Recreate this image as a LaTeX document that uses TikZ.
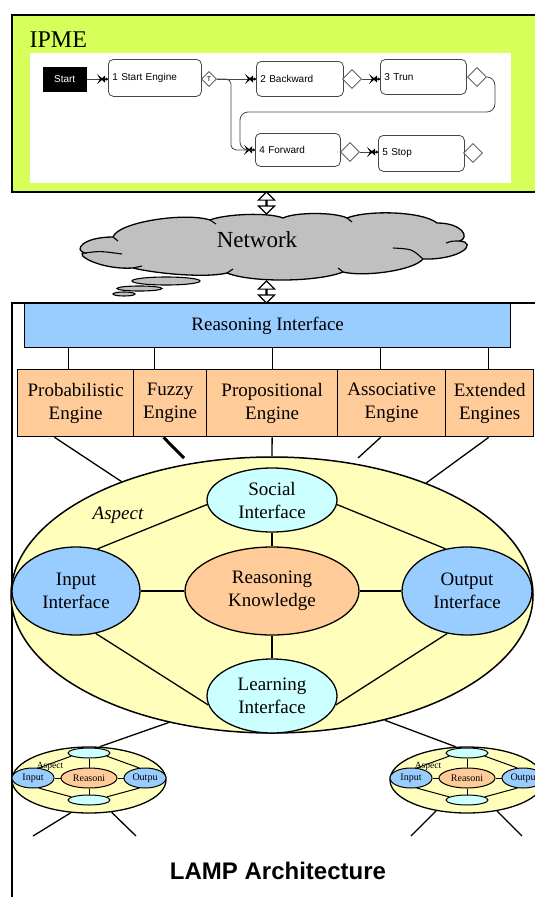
\documentclass[tikz,border=0pt]{standalone}
\usepackage{fontspec}
\setmainfont{Liberation Serif}
\setsansfont{Liberation Sans}
\usetikzlibrary{shapes.geometric,shapes.arrows,calc}
\definecolor{ipmegreen}{RGB}{214,255,90}
\definecolor{riblue}{RGB}{153,204,255}
\definecolor{engpeach}{RGB}{255,204,153}
\definecolor{aspyellow}{RGB}{255,255,187}
\definecolor{soccyan}{RGB}{204,255,255}
\definecolor{cloudgray}{RGB}{192,192,192}
\definecolor{flowgray}{RGB}{70,70,70}
\begin{document}
\begin{tikzpicture}[x=1pt,y=-1pt,line width=1.3pt,
  txt/.style={font=\fontsize{19}{23}\selectfont},
  engbox/.style={draw,fill=engpeach,rectangle,anchor=north west,txt,align=center,inner sep=0pt,minimum height=67pt},
  iface/.style={draw,ellipse,txt,align=center,inner sep=0pt},
  conn/.style={draw,line width=1.3pt},
  fbox/.style={draw=flowgray,rounded corners=5pt,line width=0.8pt,anchor=north west,inner xsep=4pt,inner ysep=0pt,align=left,font=\sffamily\fontsize{10}{12}\selectfont},
  fdia/.style={draw=flowgray,diamond,aspect=1,inner sep=0pt,line width=0.8pt,fill=white},
  flow/.style={draw=flowgray,line width=0.8pt},
  sell/.style={draw,ellipse,inner sep=0pt,line width=1pt,font=\fontsize{10}{11}\selectfont},
  sconn/.style={draw,line width=1pt},
  bubble/.style={draw,ellipse,fill=cloudgray,inner sep=0,line width=1.1pt},
  hollow/.style={double arrow,draw,fill=white,rotate=90,line width=1.2pt,inner sep=0pt,minimum height=22pt,minimum width=8pt,double arrow head extend=7.5pt},
  ipmetip/.pic={\fill[black] (-11,-5) -- (-5,0) -- (-11,5) -- (-8,0) -- cycle;
     \fill[black] (-7,0) -- (-3,-3.5) -- (-3,3.5) -- cycle;
     \fill[black] (-1.5,0) circle (1.5);}
]
\useasboundingbox (0,0) rectangle (535,897);
\clip (0,0) rectangle (535,897);
% ---------- IPME ----------
\node[draw,fill=ipmegreen,line width=1.6pt,anchor=north west,minimum width=560pt,minimum height=177pt,inner sep=0] (ipme) at (11,14) {};
\node[anchor=west,font=\fontsize{24}{26}\selectfont,inner sep=0] (ipmetxt) at (29,40) {IPME};
\node[fill=white,anchor=north west,minimum width=481pt,minimum height=130pt,inner sep=0] (panel) at (29,52) {};
\node[fill=black,text=white,anchor=north west,minimum width=44pt,minimum height=25pt,inner sep=0,font=\sffamily\fontsize{10}{12}\selectfont] (start) at (42,66) {Start};
\node[fbox,text width=85pt,minimum height=37pt] (b1) at (108,59) {1 Start Engine};
\node[fdia,minimum size=15pt,font=\sffamily\fontsize{7}{8}\selectfont] (d1) at (209,79) {T};
\node[fbox,text width=79pt,minimum height=35pt] (b2) at (256,61) {2 Backward};
\node[fdia,minimum size=19pt] (d2) at (352,79) {};
\node[fbox,text width=78pt,minimum height=35pt] (b3) at (380,59) {3 Trun};
\node[fdia,minimum size=19pt] (d3) at (477,77) {};
\node[fbox,text width=77pt,minimum height=33pt] (b4) at (255,133) {4 Forward};
\node[fdia,minimum size=19pt] (d4) at (350,152) {};
\node[fbox,text width=78pt,minimum height=36pt] (b5) at (378,135) {5 Stop};
\node[fdia,minimum size=19pt] (d5) at (473,153) {};
\draw[flow] (start.east) -- (start.east -| b1.west);
\pic at (start.east -| b1.west) {ipmetip};
\draw[flow] (d1.east) -- (d1.east -| b2.west);
\pic at (d1.east -| b2.west) {ipmetip};
\draw[flow,rounded corners=5pt] (d1.east) -- ++(14,0) |- (b4.west);
\pic at (b4.west) {ipmetip};
\draw[flow] (d2.east) -- (d2.east -| b3.west);
\pic at (d2.east -| b3.west) {ipmetip};
\draw[flow,rounded corners=8pt] (d3.east) -- ++(8,0) -- ++(0,35) -| ($(b4.west)+(-15,0)$) -- (b4.west);
\draw[flow] (d4.east) -- (d4.east -| b5.west);
\pic at (d4.east -| b5.west) {ipmetip};
% ---------- network ----------
\node[hollow] (ar1) at (266.5,203) {};
\coordinate (net) at (269,247);
\draw[fill=cloudgray,line width=1.3pt]
  (85,253) .. controls (73,250) and (83,237) .. (113,237)
  .. controls (118,222) and (185,212) .. (210,220)
  .. controls (225,214) and (268,212) .. (283,218)
  .. controls (295,212) and (335,212) .. (347,218)
  .. controls (367,210) and (422,211) .. (437,223)
  .. controls (462,223) and (470,237) .. (460,241)
  .. controls (478,243) and (461,260) .. (423,259)
  .. controls (413,271) and (363,277) .. (343,272)
  .. controls (318,282) and (252,283) .. (227,273)
  .. controls (207,278) and (158,274) .. (133,268)
  .. controls (98,270) and (73,253) .. (85,253) -- cycle;
\draw[line width=1.1pt] (85,253) .. controls (100,251) .. (122,254);
\draw[line width=1.1pt] (393,248) .. controls (412,249) .. (423,259);
\draw[line width=1.1pt] (446,243) .. controls (452,241) .. (460,241);
\draw[line width=1.1pt] (113,237) -- (118,241);
\draw[line width=1.1pt] (210,220) -- (216,224);
\draw[line width=1.1pt] (347,218) -- (352,222);
\draw[line width=1.1pt] (227,273) -- (233,269);
\draw[line width=1.1pt] (343,272) -- (338,268);
\draw[line width=1.1pt] (133,268) -- (142,266);
\node[font=\fontsize{23}{25}\selectfont,inner sep=0] (nettxt) at (257,240) {Network};
\node[bubble,minimum width=68pt,minimum height=8pt] (bub1) at (166,281) {};
\node[bubble,minimum width=45pt,minimum height=5pt] (bub2) at (139.5,288.5) {};
\node[bubble,minimum width=22pt,minimum height=4pt] (bub3) at (124,294) {};
\node[hollow] (ar2) at (266.5,292) {};
% ---------- LAMP frame ----------
\node[draw,line width=1.6pt,anchor=north west,minimum width=560pt,minimum height=620pt,inner sep=0] (frame) at (11,302) {};
\node[draw,fill=riblue,anchor=north west,minimum width=486pt,minimum height=44pt,inner sep=0,txt] (ri) at (24,303) {Reasoning Interface};
\node[engbox,minimum width=116pt] (prob) at (17,369) {Probabilistic\\Engine};
\node[engbox,minimum width=73pt] (fuzzy) at (133,369) {Fuzzy\\Engine};
\node[engbox,minimum width=131pt] (prop) at (206,369) {Propositional\\Engine};
\node[engbox,minimum width=108pt] (assoc) at (337,369) {Associative\\Engine};
\node[engbox,minimum width=88pt] (ext) at (445,369) {Extended\\Engines};
\foreach \n/\f in {prob/0.44,fuzzy/0.29,prop/0.5,assoc/0.40,ext/0.49}{
  \path ($(\n.north west)!\f!(\n.north east)$) coordinate (top\n);
  \draw[conn] (top\n) -- (top\n |- ri.south);
}
% ---------- Aspect ----------
\node[draw,ellipse,fill=aspyellow,minimum width=522pt,minimum height=276pt,inner sep=0,line width=1.5pt] (asp) at (272,595) {};
\coordinate (fuzzyend) at (184,458);
\coordinate (assocend) at (358,458);
\draw[conn] ($(prob.south west)!0.32!(prob.south east)$) -- (asp.143.6);
\draw[conn,line width=3pt] ($(fuzzy.south west)!0.41!(fuzzy.south east)$) -- (fuzzyend);
\draw[conn] (prop.south) -- (asp.north);
\draw[conn] ($(assoc.south west)!0.40!(assoc.south east)$) -- (assocend);
\draw[conn] ($(ext.south west)!0.49!(ext.south east)$) -- (asp.36.8);
\node[txt,font=\fontsize{19}{23}\selectfont\itshape] (asptxt) at (118,515) {Aspect};
\node[iface,fill=soccyan,minimum width=130pt,minimum height=64pt] (social) at (272,500) {Social\\Interface};
\node[iface,fill=engpeach,minimum width=174pt,minimum height=88pt] (reason) at (272,591) {Reasoning\\Knowledge};
\node[iface,fill=riblue,minimum width=128pt,minimum height=88pt] (input) at (76,591) {Input\\Interface};
\node[iface,fill=riblue,minimum width=130pt,minimum height=88pt] (output) at (467,591) {Output\\Interface};
\node[iface,fill=soccyan,minimum width=130pt,minimum height=74pt] (learn) at (272,696) {Learning\\Interface};
\draw[conn] (social.184) -- (input.63);
\draw[conn] (social.-4) -- (output.117);
\draw[conn] (social.south) -- (reason.north);
\draw[conn] (input.east) -- (reason.west);
\draw[conn] (reason.east) -- (output.west);
\draw[conn] (reason.south) -- (learn.north);
\draw[conn] (input.295) -- (learn.188);
\draw[conn] (output.245) -- (learn.-8);
% ---------- small aspects ----------
\node[sell,fill=aspyellow,minimum width=154pt,minimum height=66pt,line width=1.3pt] (sa1) at (89,780) {};
\node[sell,fill=aspyellow,minimum width=154pt,minimum height=66pt,line width=1.3pt] (sa2) at (467,780) {};
\draw[conn] (asp.231) -- (sa1.72);
\draw[conn] (asp.-48.3) -- (sa2.109);
\foreach \k/\cx in {1/89,2/467}{
  \node[font=\fontsize{9.5}{10}\selectfont,inner sep=0] (sat\k) at (\cx-39,766) {Aspect};
  \node[sell,fill=soccyan,minimum width=42pt,minimum height=10pt] (st\k) at (\cx,753) {};
  \node[sell,fill=riblue,minimum width=42pt,minimum height=20pt] (si\k) at (\cx-56,778) {Input};
  \node[sell,fill=engpeach,minimum width=56pt,minimum height=20pt] (sr\k) at (\cx,778) {Reasoni};
  \node[sell,fill=riblue,minimum width=42pt,minimum height=20pt] (so\k) at (\cx+56,778) {Outpu};
  \node[sell,fill=soccyan,minimum width=42pt,minimum height=10pt] (sb\k) at (\cx,800) {};
  \draw[sconn] (st\k.190) -- (si\k.60);
  \draw[sconn] (st\k.-10) -- (so\k.120);
  \draw[sconn] (st\k.south) -- (sr\k.north);
  \draw[sconn] (si\k.east) -- (sr\k.west);
  \draw[sconn] (sr\k.east) -- (so\k.west);
  \draw[sconn] (sr\k.south) -- (sb\k.north);
  \draw[sconn] (si\k.-60) -- (sb\k.170);
  \draw[sconn] (so\k.240) -- (sb\k.10);
}
\coordinate (e1) at (33,836);
\coordinate (e2) at (136,836);
\coordinate (e3) at (411,836);
\coordinate (e4) at (522,836);
\draw[conn] (sa1.-119) -- (e1);
\draw[conn] (sa1.-55) -- (e2);
\draw[conn] (sa2.-135) -- (e3);
\draw[conn] (sa2.-46) -- (e4);
\node[font=\sffamily\bfseries\fontsize{24}{26}\selectfont,inner sep=0] (title) at (278,871) {LAMP Architecture};
\end{tikzpicture}
\end{document}
